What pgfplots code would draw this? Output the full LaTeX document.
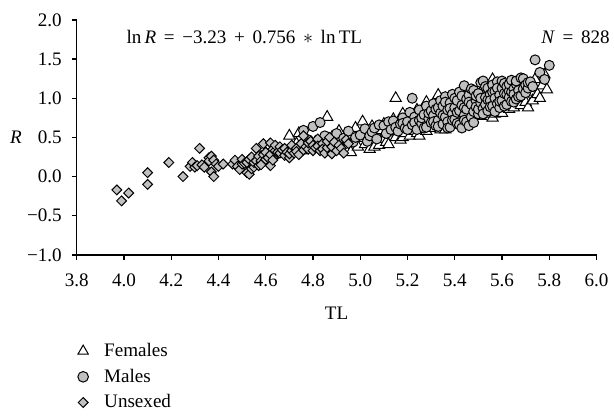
\documentclass[border=0pt]{standalone}
\usepackage{fontspec}
\setmainfont{Liberation Serif}
\usepackage{pgfplots}
\pgfplotsset{compat=1.18}
\definecolor{mgray}{RGB}{192,192,192}

\begin{document}
\begin{tikzpicture}
\begin{axis}[
 scale only axis,
 width=313.2pt, height=141.6pt,
 xmin=3.8, xmax=6.0, ymin=-1.0, ymax=2.0,
 axis x line*=bottom, axis y line*=left,
 axis line style={line width=0.9pt},
 tick style={line width=0.8pt, black},
 tick align=outside, major tick length=3pt,
 xtick={3.8,4.0,4.2,4.4,4.6,4.8,5.0,5.2,5.4,5.6,5.8,6.0},
 xticklabels={3.8,4.0,4.2,4.4,4.6,4.8,5.0,5.2,5.4,5.6,5.8,6.0},
 ytick={-1.0,-0.5,0.0,0.5,1.0,1.5,2.0},
 yticklabels={−1.0,−0.5,0.0,0.5,1.0,1.5,2.0},
 xticklabel style={font=\fontsize{11.5}{13}\selectfont, yshift=-5pt},
 yticklabel style={font=\fontsize{11.5}{13}\selectfont, xshift=-2.5pt},
 xlabel={TL}, ylabel={\textit{R}},
 xlabel style={at={(axis description cs:0.5,-0.25)}, anchor=center, font=\fontsize{11.5}{13}\selectfont},
 ylabel style={at={(axis description cs:-0.117,0.5)}, anchor=center, rotate=-90, font=\fontsize{11.5}{13}\selectfont},
 clip=false,
 legend cell align=left,
 legend style={at={(axis description cs:0,0)}, anchor=north west, yshift=-49pt, xshift=-2.5pt,
   draw=none, fill=none, row sep=2pt, column sep=7.5pt, font=\fontsize{11.5}{13}\selectfont},
]

\addlegendimage{only marks, mark=triangle*, mark size=3.6pt, mark options={fill=white, draw=black, line width=0.6pt}}
\addlegendentry{Females}
\addlegendimage{only marks, mark=*, mark size=3.2pt, mark options={fill=mgray, draw=black, line width=0.6pt}}
\addlegendentry{Males}
\addlegendimage{only marks, mark=square*, mark size=2.1pt, mark options={fill=mgray, draw=black, line width=0.6pt, rotate=45}}
\addlegendentry{Unsexed}

% Females
\addplot[forget plot, only marks, mark=triangle*, mark size=3.9pt,
  mark options={fill=white, draw=black, line width=0.6pt}] table {
x y
4.58 0.25
4.60 0.30
4.63 0.27
4.65 0.35
4.66 0.29
4.68 0.32
4.70 0.52
4.71 0.38
4.73 0.42
4.74 0.55
4.75 0.33
4.76 0.40
4.77 0.48
4.79 0.36
4.81 0.44
4.83 0.39
4.85 0.34
4.86 0.76
4.87 0.47
4.88 0.50
4.89 0.40
4.91 0.58
4.92 0.43
4.93 0.33
4.94 0.36
4.95 0.52
4.96 0.31
4.97 0.45
4.98 0.62
4.99 0.38
5.00 0.49
5.01 0.70
5.02 0.41
5.03 0.56
5.04 0.35
5.05 0.64
5.06 0.46
5.06 0.38
5.07 0.53
5.08 0.40
5.09 0.59
5.10 0.67
5.10 0.48
5.11 0.44
5.12 0.41
5.13 0.56
5.14 0.73
5.14 0.58
5.15 1.00
5.15 0.50
5.16 0.62
5.17 0.47
5.18 0.80
5.18 0.50
5.19 0.55
5.20 0.67
5.21 0.52
5.21 0.62
5.22 0.74
5.23 0.58
5.24 0.85
5.24 0.55
5.25 0.52
5.26 0.64
5.27 0.78
5.27 0.68
5.28 0.58
5.28 0.95
5.29 0.70
5.30 0.87
5.30 0.64
5.31 0.62
5.32 0.75
5.33 0.93
5.33 0.67
5.33 1.04
5.34 0.60
5.35 0.82
5.36 0.60
5.36 0.72
5.37 0.70
5.38 0.95
5.39 0.66
5.39 0.77
5.40 0.80
5.41 0.72
5.42 1.00
5.42 0.70
5.43 0.69
5.44 0.84
5.45 0.76
5.45 0.82
5.46 1.05
5.47 0.73
5.48 0.90
5.48 0.78
5.49 0.80
5.50 0.98
5.51 0.77
5.51 0.88
5.52 1.12
5.53 0.85
5.53 1.18
5.54 0.95
5.54 0.84
5.55 0.80
5.56 0.75
5.56 1.24
5.57 0.90
5.57 0.80
5.58 1.02
5.59 0.85
5.60 0.81
5.60 0.92
5.61 1.10
5.62 0.92
5.63 0.99
5.63 0.86
5.64 1.15
5.65 0.88
5.66 1.04
5.66 0.94
5.67 0.95
5.68 0.91
5.69 1.20
5.70 1.00
5.70 0.95
5.71 0.88
5.72 1.08
5.73 0.97
5.74 1.24
5.75 1.05
5.76 1.00
5.77 1.16
5.78 1.30
5.79 1.11
};

% Males
\addplot[forget plot, only marks, mark=*, mark size=3pt,
  mark options={fill=mgray, draw=black, line width=0.6pt}] table {
x y
4.76 0.59
4.78 0.47
4.80 0.64
4.83 0.69
4.85 0.52
4.88 0.43
4.90 0.55
4.93 0.49
4.95 0.58
4.97 0.44
4.98 0.50
5.00 0.53
5.02 0.61
5.03 0.45
5.04 0.52
5.05 0.57
5.06 0.62
5.07 0.48
5.08 0.66
5.10 0.65
5.11 0.55
5.12 0.70
5.13 0.60
5.14 0.71
5.15 0.63
5.16 0.58
5.17 0.67
5.18 0.75
5.18 0.68
5.19 0.62
5.20 0.70
5.20 0.60
5.21 0.82
5.22 1.00
5.22 0.66
5.23 0.76
5.23 0.69
5.24 0.60
5.25 0.72
5.25 0.85
5.26 0.68
5.26 0.75
5.27 0.79
5.27 0.62
5.28 0.90
5.28 0.63
5.29 0.74
5.29 0.81
5.30 0.84
5.30 0.69
5.31 0.93
5.31 0.78
5.31 0.70
5.32 0.65
5.32 0.86
5.33 0.88
5.33 0.72
5.33 0.64
5.34 0.97
5.34 0.81
5.35 0.67
5.35 0.90
5.35 0.78
5.36 0.76
5.36 1.02
5.36 0.95
5.37 0.85
5.37 0.70
5.37 0.62
5.38 0.94
5.38 0.63
5.38 0.87
5.39 0.80
5.39 1.05
5.39 0.72
5.40 0.88
5.40 0.73
5.40 1.00
5.41 0.97
5.41 0.68
5.41 0.82
5.42 0.84
5.42 1.08
5.42 0.66
5.43 0.62
5.43 0.91
5.43 1.03
5.44 1.16
5.44 0.78
5.44 0.72
5.44 0.88
5.45 0.99
5.45 0.86
5.45 0.70
5.46 0.65
5.46 1.04
5.46 0.95
5.47 0.92
5.47 0.76
5.47 1.12
5.48 1.10
5.48 0.83
5.48 0.69
5.49 0.97
5.49 0.89
5.49 1.03
5.50 1.06
5.50 0.80
5.50 0.86
5.51 1.20
5.51 0.94
5.51 1.00
5.52 1.22
5.52 0.87
5.52 0.80
5.53 1.01
5.53 0.92
5.53 1.15
5.54 1.13
5.54 0.84
5.54 0.98
5.55 1.05
5.55 0.97
5.55 0.89
5.56 1.17
5.56 0.90
5.56 1.08
5.57 1.09
5.57 1.00
5.57 0.83
5.58 0.93
5.58 1.21
5.58 1.13
5.59 1.04
5.59 0.88
5.59 0.96
5.60 1.13
5.60 0.97
5.60 1.22
5.61 1.19
5.61 1.06
5.61 0.90
5.62 0.92
5.62 1.15
5.62 1.05
5.63 1.09
5.63 1.01
5.63 1.18
5.64 1.23
5.64 0.96
5.64 1.08
5.65 1.12
5.65 1.05
5.65 0.95
5.66 1.18
5.66 0.99
5.66 1.22
5.67 1.10
5.67 1.02
5.68 1.26
5.68 1.03
5.69 1.25
5.69 1.12
5.70 1.07
5.70 1.17
5.71 1.13
5.71 1.20
5.72 1.21
5.73 1.15
5.74 1.49
5.76 1.33
5.78 1.24
5.80 1.42
};

% Unsexed
\addplot[forget plot, only marks, mark=square*, mark size=2.1pt,
  mark options={fill=mgray, draw=black, line width=0.6pt, rotate=45}] table {
x y
3.97 -0.17
3.99 -0.31
4.02 -0.21
4.10 0.05
4.10 -0.10
4.19 0.18
4.25 0.00
4.28 0.13
4.29 0.18
4.30 0.12
4.31 0.14
4.32 0.36
4.33 0.15
4.34 0.12
4.36 0.24
4.36 0.20
4.37 0.26
4.37 0.06
4.38 0.00
4.38 0.21
4.39 0.16
4.40 0.13
4.42 0.16
4.46 0.16
4.47 0.21
4.48 0.13
4.49 0.09
4.50 0.16
4.50 0.22
4.51 0.17
4.52 0.05
4.52 0.18
4.53 0.03
4.53 0.22
4.54 0.10
4.54 0.25
4.55 0.12
4.55 0.18
4.56 0.36
4.56 0.20
4.57 0.14
4.57 0.26
4.58 0.20
4.58 0.15
4.59 0.42
4.59 0.28
4.60 0.22
4.60 0.31
4.61 0.24
4.62 0.14
4.62 0.43
4.62 0.28
4.63 0.35
4.63 0.21
4.64 0.33
4.64 0.40
4.65 0.31
4.66 0.38
4.66 0.30
4.67 0.34
4.68 0.27
4.68 0.36
4.69 0.31
4.70 0.24
4.70 0.29
4.71 0.33
4.71 0.40
4.72 0.30
4.73 0.36
4.73 0.32
4.74 0.28
4.75 0.42
4.76 0.52
4.76 0.34
4.77 0.38
4.78 0.35
4.78 0.43
4.79 0.45
4.80 0.40
4.80 0.33
4.81 0.37
4.82 0.48
4.82 0.39
4.83 0.33
4.84 0.42
4.84 0.35
4.85 0.30
4.86 0.37
4.86 0.45
4.87 0.50
4.88 0.29
4.88 0.38
4.89 0.44
4.90 0.33
4.91 0.40
4.92 0.36
4.93 0.30
4.94 0.47
4.95 0.42
};

\node[anchor=west, inner sep=0pt, font=\fontsize{11.5}{13}\selectfont] at (axis cs:4.01,1.78)
  {ln\,\textit{R}\hspace{0.4em}=\hspace{0.4em}−3.23\hspace{0.4em}+\hspace{0.4em}0.756\hspace{0.4em}$\ast$\hspace{0.4em}ln\,TL};
\node[anchor=east, inner sep=0pt, font=\fontsize{11.5}{13}\selectfont] at (rel axis cs:1.026,0.9267)
  {\textit{N}\hspace{0.4em}=\hspace{0.4em}828};

% page frame
\path (rel axis cs:-0.1475,1.0847) rectangle (rel axis cs:1.0287,-0.669);
\end{axis}
\end{tikzpicture}
\end{document}
